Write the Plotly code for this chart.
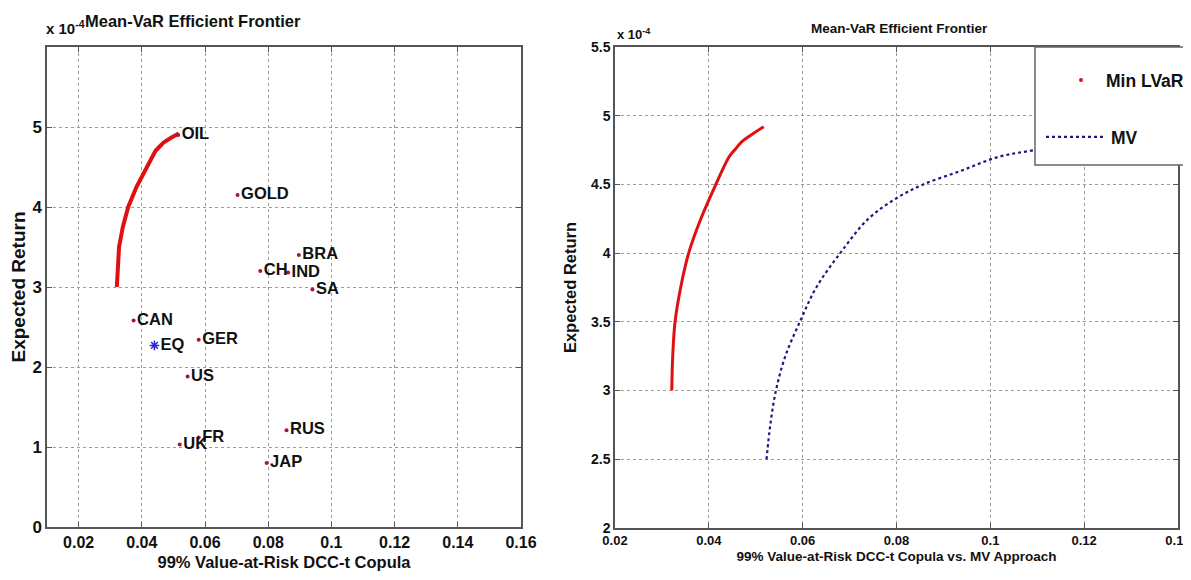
import plotly.graph_objects as go

# ---------------- data ----------------
frontier_var = [0.0321, 0.0323, 0.0328, 0.0340, 0.0357, 0.0383, 0.0415, 0.0443, 0.0455, 0.0470, 0.0490, 0.0517]
frontier_ret = [3.00, 3.25, 3.50, 3.75, 4.00, 4.25, 4.50, 4.70, 4.75, 4.81, 4.86, 4.92]

mv_var = [0.0523, 0.0531, 0.0543, 0.0563, 0.0594, 0.0629, 0.0680, 0.0740, 0.0800, 0.0857, 0.0938, 0.1017, 0.1094, 0.1180, 0.1260]
mv_ret = [2.50, 2.75, 3.00, 3.25, 3.50, 3.75, 4.00, 4.25, 4.40, 4.50, 4.60, 4.70, 4.75, 4.80, 4.84]

assets = ["OIL", "GOLD", "BRA", "CH", "IND", "SA", "CAN", "GER", "US", "UK", "FR", "RUS", "JAP"]
asset_var = [0.0515, 0.0703, 0.0897, 0.0775, 0.0863, 0.0940, 0.0374, 0.0580, 0.0545, 0.0520, 0.0580, 0.0858, 0.0795]
asset_ret = [4.90, 4.15, 3.40, 3.20, 3.18, 2.97, 2.58, 2.34, 1.88, 1.03, 1.12, 1.21, 0.80]

eq_name = ["EQ"]
eq_var = [0.0440]
eq_ret = [2.27]

left_xticks = [0.02, 0.04, 0.06, 0.08, 0.10, 0.12, 0.14, 0.16]
left_xlabels = ["0.02", "0.04", "0.06", "0.08", "0.1", "0.12", "0.14", "0.16"]
left_yticks = [0, 1, 2, 3, 4, 5]
left_ylabels = ["0", "1", "2", "3", "4", "5"]
right_xticks = [0.02, 0.04, 0.06, 0.08, 0.10, 0.12, 0.14]
right_xlabels = ["0.02", "0.04", "0.06", "0.08", "0.1", "0.12", "0.14"]
right_yticks = [2, 2.5, 3, 3.5, 4, 4.5, 5, 5.5]
right_ylabels = ["2", "2.5", "3", "3.5", "4", "4.5", "5", "5.5"]

# ---------------- style ----------------
SCREEN_W, SCREEN_H = 1191, 580
OFF = 8  # page body margin
W, H = SCREEN_W - OFF, SCREEN_H - OFF
FONT = "Liberation Sans, Arial, Helvetica, sans-serif"
INK = "#111"


def px_x(p):
    return (p - OFF) / W


def px_y(p):
    return 1 - (p - OFF) / H


def f(size):
    return dict(family=FONT, size=size, color=INK, weight="bold")


fig = go.Figure()

# left panel
fig.add_trace(go.Scatter(x=frontier_var, y=frontier_ret, mode="lines",
                         line=dict(color="#e01010", width=4), showlegend=False,
                         xaxis="x", yaxis="y"))
fig.add_trace(go.Scatter(x=asset_var, y=asset_ret, mode="markers+text", text=assets,
                         textposition="middle right", textfont=f(16.5),
                         marker=dict(color="#b0103a", size=4), showlegend=False,
                         xaxis="x", yaxis="y"))
fig.add_trace(go.Scatter(x=eq_var, y=eq_ret, mode="markers+text", text=eq_name,
                         textposition="middle right", textfont=f(16.5),
                         marker=dict(color="#2a2ad0", size=8, symbol="asterisk-open",
                                     line=dict(color="#2a2ad0", width=1.5)),
                         showlegend=False, xaxis="x", yaxis="y"))

# right panel
fig.add_trace(go.Scatter(x=mv_var, y=mv_ret, mode="lines", name="MV",
                         line=dict(color="#1a1a80", width=2.2, dash="dot", shape="spline"),
                         legend="legend2", xaxis="x2", yaxis="y2"))
fig.add_trace(go.Scatter(x=frontier_var, y=frontier_ret, mode="lines", name="Min LVaR",
                         line=dict(color="#e01010", width=3, shape="spline"),
                         showlegend=False, xaxis="x2", yaxis="y2"))
fig.add_trace(go.Scatter(x=[None], y=[None], mode="markers", name="Min LVaR",
                         marker=dict(color="#e01010", size=4),
                         legend="legend", xaxis="x2", yaxis="y2"))

axis_common = dict(showgrid=True, gridcolor="#9a9a9a", griddash="dot", gridwidth=1,
                   showline=True, linecolor="#555", linewidth=1.5, mirror="ticks",
                   ticks="inside", ticklen=5, tickcolor="#555", zeroline=False)

fig.update_layout(
    width=W, height=H,
    paper_bgcolor="white", plot_bgcolor="white",
    margin=dict(l=0, r=0, t=0, b=0, autoexpand=False),
    xaxis=dict(domain=[px_x(47), px_x(521)], range=[0.01, 0.16],
               tickvals=left_xticks, ticktext=left_xlabels, tickfont=f(16),
               title=dict(text="99% Value-at-Risk DCC-t Copula", standoff=6, font=f(16.5)),
               anchor="y", **axis_common),
    yaxis=dict(domain=[px_y(527), px_y(47)], range=[0, 6],
               tickvals=left_yticks, ticktext=left_ylabels, tickfont=f(17),
               title=dict(text="Expected Return", standoff=10, font=f(19)),
               anchor="x", **axis_common),
    xaxis2=dict(domain=[px_x(615), px_x(1178)], range=[0.02, 0.14],
                tickvals=right_xticks, ticktext=right_xlabels, tickfont=f(13),
                ticklabeloverflow="allow",
                title=dict(text="99% Value-at-Risk DCC-t Copula vs. MV Approach", standoff=4,
                           font=f(13.5)),
                anchor="y2", **axis_common),
    yaxis2=dict(domain=[px_y(528), px_y(47)], range=[2, 5.5],
                tickvals=right_yticks, ticktext=right_ylabels, tickfont=f(14),
                title=dict(text="Expected Return", standoff=10, font=f(16.5)),
                anchor="x2", **axis_common),
    legend=dict(x=px_x(1056), y=px_y(80), xanchor="left", yanchor="middle",
                bgcolor="rgba(0,0,0,0)", borderwidth=0, itemwidth=40, font=f(17.5)),
    legend2=dict(x=px_x(1041), y=px_y(137), xanchor="left", yanchor="middle",
                 bgcolor="rgba(0,0,0,0)", borderwidth=0, itemwidth=60, font=f(17.5)),
    shapes=[dict(type="rect", xref="paper", yref="paper",
                 x0=px_x(1035), x1=px_x(1205), y0=px_y(165), y1=px_y(47),
                 line=dict(color="#666", width=1.5), fillcolor="white", layer="above")],
    annotations=[
        dict(text="Mean-VaR Efficient Frontier", xref="paper", yref="paper",
             x=px_x(83), y=px_y(21), xanchor="left", yanchor="middle", showarrow=False,
             font=f(16.5)),
        dict(text="x 10<sup>-4</sup>", xref="paper", yref="paper",
             x=px_x(44), y=px_y(39), xanchor="left", yanchor="bottom", showarrow=False,
             font=f(15)),
        dict(text="Mean-VaR Efficient Frontier", xref="paper", yref="paper",
             x=px_x(899), y=px_y(29), xanchor="center", yanchor="middle", showarrow=False,
             font=f(13.5)),
        dict(text="x 10<sup>-4</sup>", xref="paper", yref="paper",
             x=px_x(615), y=px_y(44), xanchor="left", yanchor="bottom", showarrow=False,
             font=f(13)),
    ],
)

fig.write_html("out.html")
